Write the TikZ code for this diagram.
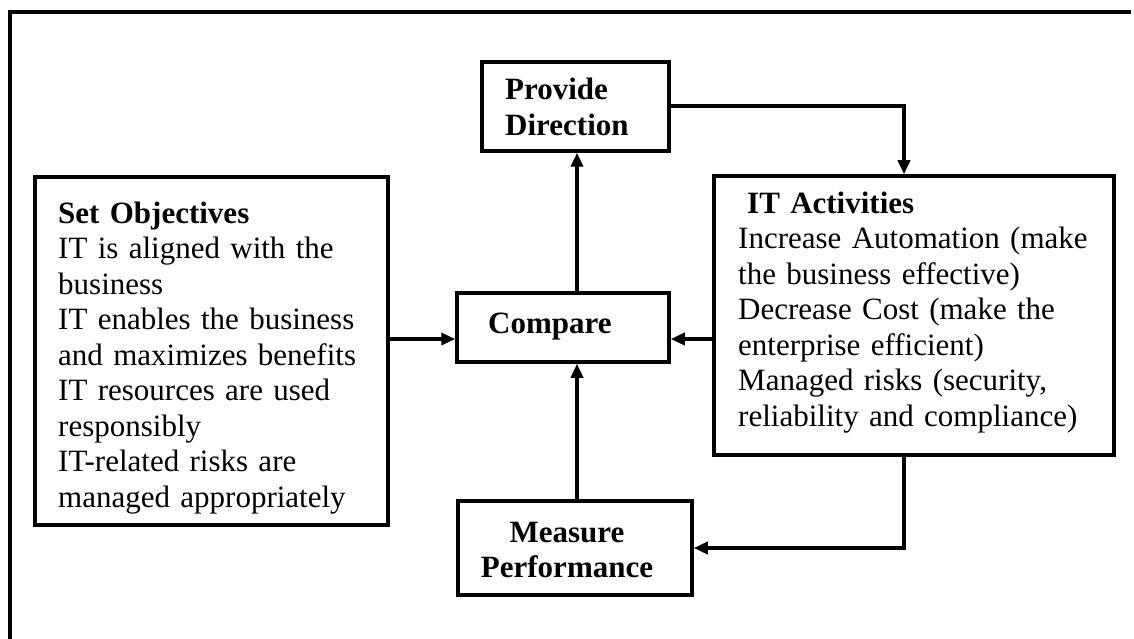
\documentclass[tikz,border=0pt]{standalone}
\usepackage{fontspec}
\setmainfont{Liberation Serif}
\usetikzlibrary{arrows.meta}
\begin{document}
\begin{tikzpicture}[x=1pt,y=-1pt,
  box/.style={draw, line width=3.5pt, rectangle, inner sep=0pt},
  txt/.style={font=\fontsize{31}{35.5}\selectfont, align=left, inner sep=0pt, anchor=base west},
  conn/.style={line width=3.5pt, -{Triangle[length=14pt,width=12pt]}},
  frameline/.style={line width=4pt}]
\useasboundingbox (0,0) rectangle (1134,639);
\draw[frameline] (9.5,639) -- (9.5,12) -- (1131,12);
% boxes
\node[box, minimum width=187, minimum height=89] (pd) at (575.5,106.5) {};
\node[box, minimum width=212, minimum height=69] (cmp) at (563,327.5) {};
\node[box, minimum width=234, minimum height=94] (mp) at (575,548) {};
\node[box, minimum width=400, minimum height=279] (itb) at (914,315.5) {};
\node[box, minimum width=353, minimum height=348] (obj) at (211.5,351) {};
% texts
\node[txt, text width=160] (pdt) at (505,100) {\textbf{Provide}\\\textbf{Direction}};
\node[txt, text width=150] (cmpt) at (488,333) {\textbf{Compare}};
\node[txt, align=center, anchor=base, text width=220] (mpt) at (567,542) {\textbf{Measure}\\\textbf{Performance}};
\node[txt, text width=372] (itt) at (738,213) {\hspace*{9pt}\textbf{IT Activities}\\
Increase Automation (make\\
the business effective)\\
Decrease Cost (make the\\
enterprise efficient)\\
Managed risks (security,\\
reliability and compliance)};
\node[txt, text width=325] (objt) at (58,223) {\textbf{Set Objectives}\\
IT is aligned with the\\
business\\
IT enables the business\\
and maximizes benefits\\
IT resources are used\\
responsibly\\
IT-related risks are\\
managed appropriately};
% connector guides
\coordinate (h1) at (0,106);
\coordinate (h2) at (0,548);
\coordinate (h3) at (0,339);
\coordinate (v1) at (577,0);
\coordinate (v2) at (904,0);
% connectors
\draw[conn] (obj.east |- h3) -- (cmp.west |- h3);
\draw[conn] (itb.west |- h3) -- (cmp.east |- h3);
\draw[conn] (cmp.north -| v1) -- (pd.south -| v1);
\draw[conn] (mp.north -| v1) -- (cmp.south -| v1);
\draw[conn] (pd.east |- h1) -| (itb.north -| v2);
\draw[conn] (itb.south -| v2) |- (mp.east |- h2);
\end{tikzpicture}
\end{document}
